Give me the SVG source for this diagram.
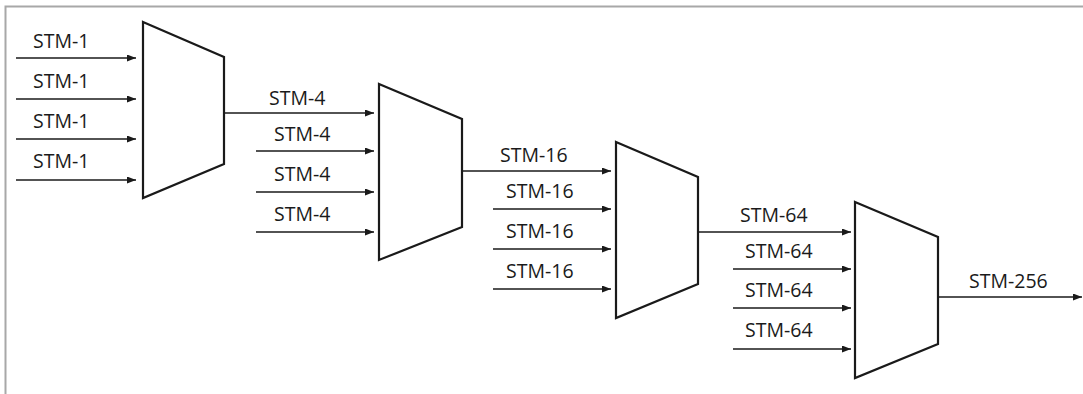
<svg xmlns="http://www.w3.org/2000/svg" width="1083" height="394" viewBox="0 0 1083 394">
<style>
.mux{fill:#fff;stroke:#1a1a1a;stroke-width:2.2;stroke-linejoin:miter}
.ln{stroke:#1a1a1a;stroke-width:1.5;fill:none}
.lbl{font-family:"Open Sans","Noto Sans",sans-serif;font-size:19.5px;fill:#1a1a1a}
</style>
<defs>
<marker id="ah" markerUnits="userSpaceOnUse" markerWidth="10" markerHeight="8" refX="9" refY="3.5" orient="auto">
<path d="M0,0 L9,3.5 L0,7 z" fill="#1a1a1a"/>
</marker>
</defs>
<rect x="5.5" y="6.5" width="1090" height="400" fill="#fff" stroke="#a8a8a8" stroke-width="2"/>
<g id="connectors">
<line class="ln" x1="16" y1="58" x2="136" y2="58" marker-end="url(#ah)"/>
<line class="ln" x1="16" y1="99" x2="136" y2="99" marker-end="url(#ah)"/>
<line class="ln" x1="16" y1="139" x2="136" y2="139" marker-end="url(#ah)"/>
<line class="ln" x1="16" y1="180" x2="136" y2="180" marker-end="url(#ah)"/>
<line class="ln" x1="224" y1="113" x2="374" y2="113" marker-end="url(#ah)"/>
<line class="ln" x1="256" y1="151" x2="374" y2="151" marker-end="url(#ah)"/>
<line class="ln" x1="256" y1="192" x2="374" y2="192" marker-end="url(#ah)"/>
<line class="ln" x1="256" y1="232" x2="374" y2="232" marker-end="url(#ah)"/>
<line class="ln" x1="462" y1="171" x2="611" y2="171" marker-end="url(#ah)"/>
<line class="ln" x1="493" y1="209" x2="611" y2="209" marker-end="url(#ah)"/>
<line class="ln" x1="493" y1="249" x2="611" y2="249" marker-end="url(#ah)"/>
<line class="ln" x1="493" y1="289" x2="611" y2="289" marker-end="url(#ah)"/>
<line class="ln" x1="698" y1="232" x2="851" y2="232" marker-end="url(#ah)"/>
<line class="ln" x1="733" y1="269" x2="851" y2="269" marker-end="url(#ah)"/>
<line class="ln" x1="733" y1="308" x2="851" y2="308" marker-end="url(#ah)"/>
<line class="ln" x1="733" y1="349" x2="851" y2="349" marker-end="url(#ah)"/>
<line class="ln" x1="938" y1="297" x2="1082" y2="297" marker-end="url(#ah)"/>
</g>
<g id="labels">
<text class="lbl" x="33" y="48">STM-1</text>
<text class="lbl" x="33" y="88">STM-1</text>
<text class="lbl" x="33" y="128">STM-1</text>
<text class="lbl" x="33" y="168">STM-1</text>
<text class="lbl" x="269" y="105">STM-4</text>
<text class="lbl" x="274" y="141">STM-4</text>
<text class="lbl" x="274" y="181">STM-4</text>
<text class="lbl" x="274" y="221">STM-4</text>
<text class="lbl" x="500" y="162">STM-16</text>
<text class="lbl" x="506" y="198">STM-16</text>
<text class="lbl" x="506" y="238">STM-16</text>
<text class="lbl" x="506" y="278">STM-16</text>
<text class="lbl" x="740" y="222">STM-64</text>
<text class="lbl" x="745" y="258">STM-64</text>
<text class="lbl" x="745" y="297">STM-64</text>
<text class="lbl" x="745" y="337">STM-64</text>
<text class="lbl" x="969" y="288">STM-256</text>
</g>
<g id="mux1"><polygon class="mux" points="143,22 224,57 224,164 143,198"/></g>
<g id="mux2"><polygon class="mux" points="379,84 462,119 462,227 379,260"/></g>
<g id="mux3"><polygon class="mux" points="616,142 698,177 698,284 616,318"/></g>
<g id="mux4"><polygon class="mux" points="855,202 938,237 938,344 855,378"/></g>
</svg>
